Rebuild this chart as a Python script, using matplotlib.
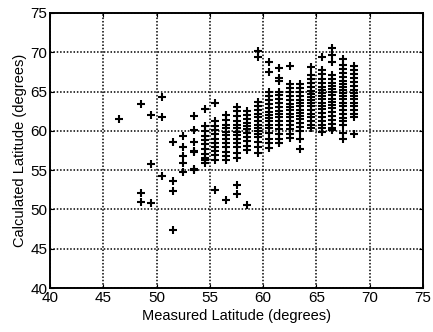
import matplotlib
matplotlib.use("Agg")
import matplotlib.pyplot as plt

# measured latitude of each column of points (degrees)
column_lat = [46.5, 48.5, 49.5, 50.5, 51.5, 52.5, 53.5, 54.5, 55.5, 56.5, 57.5,
              58.5, 59.5, 60.5, 61.5, 62.5, 63.5, 64.5, 65.5, 66.5, 67.5, 68.5]

# calculated latitudes for each column
calc_lat = [
    [61.5],
    [63.4, 52.1, 51.0],
    [62.0, 55.8, 50.8],
    [64.3, 61.8, 54.3],
    [58.6, 53.6, 52.4, 47.4],
    [59.3, 58.0, 56.8, 55.9, 54.7],
    [61.9, 60.1, 58.6, 57.4, 57.3, 55.1, 55.0],
    [62.8, 60.6, 60.0, 59.4, 58.8, 58.3, 57.7, 57.1, 56.5, 56.3, 55.9],
    [63.6, 61.2, 60.6, 60.1, 59.6, 59.0, 58.5, 58.0, 57.4, 56.9, 56.3, 52.5],
    [62.0, 61.4, 60.8, 60.3, 59.9, 59.5, 59.0, 58.5, 57.9, 57.3, 56.8, 56.3, 51.2],
    [63.0, 62.5, 61.9, 61.3, 60.7, 60.3, 59.9, 59.5, 59.0, 58.5, 57.9, 57.2,
     56.6, 53.1, 52.0],
    [62.5, 62.0, 61.5, 61.0, 60.6, 60.2, 59.7, 59.2, 58.7, 58.1, 57.6, 50.6],
    [70.1, 69.4, 63.7, 63.2, 62.7, 62.2, 61.7, 61.2, 60.8, 60.4, 60.0, 59.6,
     59.2, 58.6, 58.0, 57.2],
    [68.8, 67.5, 65.0, 64.4, 63.9, 63.4, 62.9, 62.4, 62.0, 61.6, 61.2, 60.8,
     60.3, 59.7, 59.0, 58.4, 57.8],
    [68.0, 66.7, 66.4, 65.0, 64.5, 64.0, 63.5, 63.0, 62.5, 62.1, 61.7, 61.3,
     60.8, 60.2, 59.6, 59.0, 58.4],
    [68.3, 65.9, 65.4, 64.9, 64.4, 63.9, 63.4, 63.0, 62.6, 62.2, 61.8, 61.3,
     60.8, 60.2, 59.6, 59.1],
    [65.9, 65.4, 64.9, 64.4, 63.9, 63.5, 63.1, 62.7, 62.3, 61.9, 61.5, 61.0,
     60.5, 60.0, 58.9, 57.7],
    [68.1, 67.1, 66.6, 66.1, 65.6, 65.1, 64.7, 64.3, 63.9, 63.5, 63.1, 62.7,
     62.2, 61.7, 61.2, 60.8, 60.4],
    [69.4, 67.8, 67.2, 66.6, 66.1, 65.6, 65.2, 64.8, 64.4, 64.0, 63.6, 63.2,
     62.8, 62.3, 61.8, 61.3, 60.8, 60.3, 59.9],
    [70.5, 69.7, 68.8, 67.1, 66.6, 66.1, 65.7, 65.3, 64.9, 64.5, 64.1, 63.7,
     63.3, 62.9, 62.4, 61.9, 61.4, 60.9, 60.4, 60.1],
    [69.2, 68.4, 67.9, 67.4, 66.9, 66.4, 66.0, 65.6, 65.2, 64.8, 64.4, 64.0,
     63.6, 63.1, 62.6, 62.1, 61.6, 61.2, 60.8, 59.7, 58.9],
    [68.2, 67.7, 67.2, 66.7, 66.2, 65.7, 65.2, 64.8, 64.4, 64.0, 63.6, 63.1,
     62.6, 62.2, 61.8, 59.6],
]

ticks = [40, 45, 50, 55, 60, 65, 70, 75]

xs = []
ys = []
for lat, col in zip(column_lat, calc_lat):
    xs += [lat] * len(col)
    ys += col

plt.rcParams['font.family'] = ['Liberation Sans', 'DejaVu Sans']

fig = plt.figure(figsize=(4.33, 3.32), dpi=100)
ax = fig.add_axes([0.1155, 0.1325, 0.8615, 0.8285])

ax.plot(xs, ys, linestyle='none', marker='+', color='black',
        markersize=5.5, markeredgewidth=1.5)

ax.set_xlim(40, 75)
ax.set_ylim(40, 75)
ax.set_xticks(ticks)
ax.set_yticks(ticks)
ax.grid(True, color='black', linestyle=(0, (1.0, 1.2)), linewidth=1.1)
ax.tick_params(direction='in', top=True, right=True, length=3,
               labelsize=11, pad=2)
for s in ax.spines.values():
    s.set_linewidth(1.4)

ax.set_xlabel('Measured Latitude (degrees)', fontsize=10.5, labelpad=3)
ax.set_ylabel('Calculated Latitude (degrees)', fontsize=10.5, labelpad=2)

fig.savefig('out.png', dpi=100)
